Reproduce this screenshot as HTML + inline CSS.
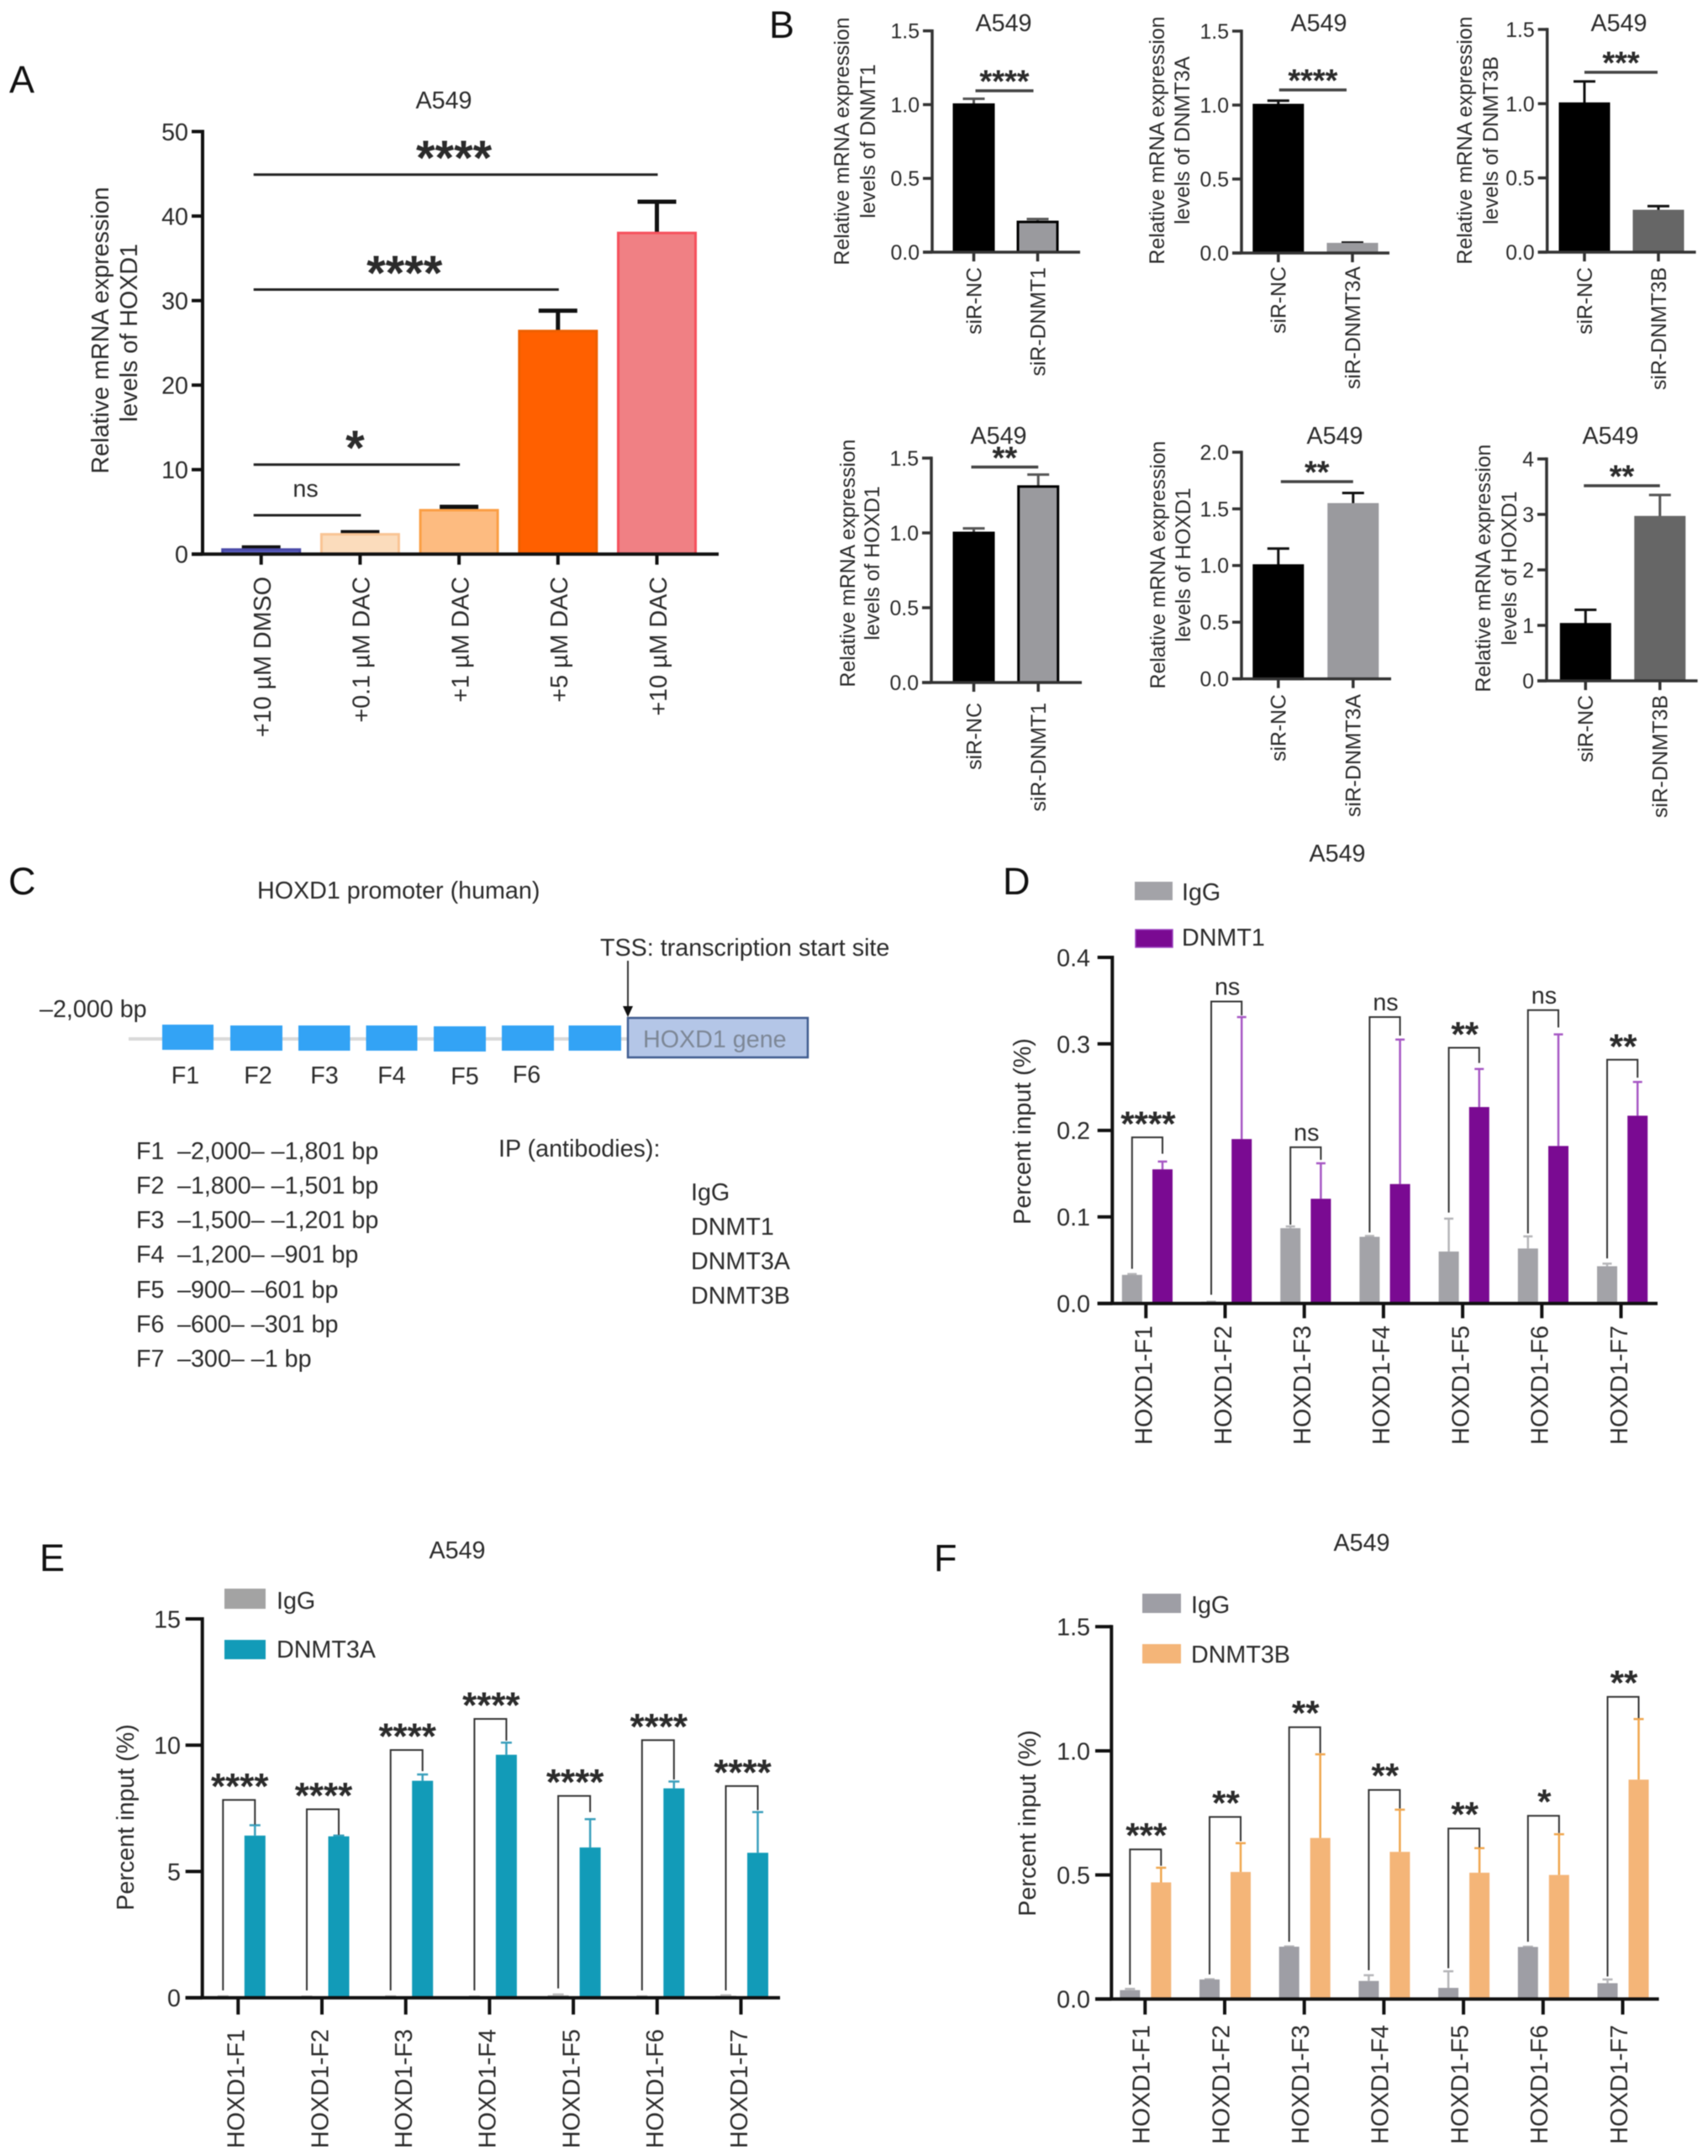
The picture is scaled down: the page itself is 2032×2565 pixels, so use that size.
<!DOCTYPE html>
<html lang="en">
<head>
<meta charset="utf-8">
<title>A549 HOXD1 methylation figure</title>
<style>
html,body{margin:0;padding:0;background:#fff;}
body{width:2032px;height:2565px;overflow:hidden;}
#figure{display:block;filter:blur(0.6px);}
text{font-family:"Liberation Sans",Arial,sans-serif;fill:#2b2b2b;}
.letter{font-size:45px;fill:#111;}
.t{font-size:28.7px;}
.s{font-size:24.8px;}
.m{text-anchor:middle;}
</style>
</head>
<body>
<svg id="figure" xmlns="http://www.w3.org/2000/svg" width="2032" height="2565" viewBox="0 0 2032 2565">
  <rect x="0" y="0" width="2032" height="2565" fill="#fff"/>

  <text class="letter" x="11" y="110">A</text>
  <text class="letter" x="915" y="45">B</text>
  <text class="letter" x="10" y="1064">C</text>
  <text class="letter" x="1193" y="1064">D</text>
  <text class="letter" x="47" y="1869">E</text>
  <text class="letter" x="1111" y="1869">F</text>

  <g id="panel-a">
    <text class="t m" x="528" y="129">A549</text>
    <text class="t m" transform="translate(129 393) rotate(-90)">Relative mRNA expression</text>
    <text class="t m" transform="translate(163 396) rotate(-90)">levels of HOXD1</text>
  </g>

  <g id="panel-b1">
    <text class="t m" x="1194" y="37">A549</text>
    <text class="s m" transform="translate(1010 168) rotate(-90)">Relative mRNA expression</text>
    <text class="s m" transform="translate(1041 168) rotate(-90)">levels of DNMT1</text>
  </g>
  <g id="panel-b2">
    <text class="t m" x="1569" y="37">A549</text>
    <text class="s m" transform="translate(1385 167) rotate(-90)">Relative mRNA expression</text>
    <text class="s m" transform="translate(1415 167) rotate(-90)">levels of DNMT3A</text>
  </g>
  <g id="panel-b3">
    <text class="t m" x="1926" y="37">A549</text>
    <text class="s m" transform="translate(1751 167) rotate(-90)">Relative mRNA expression</text>
    <text class="s m" transform="translate(1782 167) rotate(-90)">levels of DNMT3B</text>
  </g>
  <g id="panel-b4">
    <text class="t m" x="1188" y="528">A549</text>
    <text class="s m" transform="translate(1017 670) rotate(-90)">Relative mRNA expression</text>
    <text class="s m" transform="translate(1046 670) rotate(-90)">levels of HOXD1</text>
  </g>
  <g id="panel-b5">
    <text class="t m" x="1588" y="528">A549</text>
    <text class="s m" transform="translate(1386 672) rotate(-90)">Relative mRNA expression</text>
    <text class="s m" transform="translate(1416 672) rotate(-90)">levels of HOXD1</text>
  </g>
  <g id="panel-b6">
    <text class="t m" x="1916" y="528">A549</text>
    <text class="s m" transform="translate(1773 676) rotate(-90)">Relative mRNA expression</text>
    <text class="s m" transform="translate(1804 676) rotate(-90)">levels of HOXD1</text>
  </g>

  <g id="panel-c">
    <text class="t" x="306" y="1069">HOXD1 promoter (human)</text>
    <text class="t" x="714" y="1137">TSS: transcription start site</text>
    <line x1="747" y1="1143" x2="747" y2="1198" stroke="#333" stroke-width="2"/>
    <polygon points="741,1197 753,1197 747,1210" fill="#111"/>
    <text class="t" x="47" y="1210">–2,000 bp</text>
    <line x1="153" y1="1236" x2="747" y2="1236" stroke="#d9d9d9" stroke-width="4"/>
    <rect x="193" y="1219" width="61" height="30" fill="#33a3f5"/>
    <rect x="274" y="1220" width="62" height="30" fill="#33a3f5"/>
    <rect x="355" y="1220" width="61.5" height="30" fill="#33a3f5"/>
    <rect x="435.5" y="1220" width="61" height="30" fill="#33a3f5"/>
    <rect x="516" y="1221" width="62" height="30" fill="#33a3f5"/>
    <rect x="597" y="1220" width="62" height="30" fill="#33a3f5"/>
    <rect x="676.5" y="1220" width="62.5" height="30" fill="#33a3f5"/>
    <rect x="747" y="1211" width="214" height="47" fill="#b4c6e7" stroke="#3f5c8f" stroke-width="2.5"/>
    <text class="t" x="765" y="1246" style="fill:#7d8796">HOXD1 gene</text>
    <text class="t m" x="220.5" y="1289">F1</text>
    <text class="t m" x="307" y="1289">F2</text>
    <text class="t m" x="386" y="1289">F3</text>
    <text class="t m" x="466" y="1289">F4</text>
    <text class="t m" x="553" y="1290">F5</text>
    <text class="t m" x="626.5" y="1288">F6</text>

    <text class="t" y="1379"><tspan x="162">F1</tspan><tspan x="211">–2,000– –1,801 bp</tspan></text>
    <text class="t" y="1420"><tspan x="162">F2</tspan><tspan x="211">–1,800– –1,501 bp</tspan></text>
    <text class="t" y="1461"><tspan x="162">F3</tspan><tspan x="211">–1,500– –1,201 bp</tspan></text>
    <text class="t" y="1502"><tspan x="162">F4</tspan><tspan x="211">–1,200– –901 bp</tspan></text>
    <text class="t" y="1544"><tspan x="162">F5</tspan><tspan x="211">–900– –601 bp</tspan></text>
    <text class="t" y="1585"><tspan x="162">F6</tspan><tspan x="211">–600– –301 bp</tspan></text>
    <text class="t" y="1626"><tspan x="162">F7</tspan><tspan x="211">–300– –1 bp</tspan></text>

    <text class="t" x="593" y="1376">IP (antibodies):</text>
    <text class="t" x="822" y="1428">IgG</text>
    <text class="t" x="822" y="1469">DNMT1</text>
    <text class="t" x="822" y="1510">DNMT3A</text>
    <text class="t" x="822" y="1551">DNMT3B</text>
  </g>

  <g id="panel-d">
    <text class="t m" x="1591" y="1025">A549</text>
    <rect x="1350" y="1049" width="45" height="22" fill="#a3a3a8"/>
    <text class="t" x="1406" y="1071">IgG</text>
    <rect x="1351" y="1106" width="44" height="21" fill="#7a0a92" stroke="#9c42c0" stroke-width="1.5"/>
    <text class="t" x="1406" y="1125">DNMT1</text>
    <text class="t m" transform="translate(1226 1346) rotate(-90)">Percent input (%)</text>
  </g>
  <g id="panel-e">
    <text class="t m" x="544" y="1854">A549</text>
    <rect x="267" y="1890" width="49" height="24" fill="#a3a3a3"/>
    <text class="t" x="329" y="1914">IgG</text>
    <rect x="267" y="1951" width="49" height="23" fill="#129bb8"/>
    <text class="t" x="329" y="1972">DNMT3A</text>
    <text class="t m" transform="translate(159 2162) rotate(-90)">Percent input (%)</text>
  </g>
  <g id="panel-f">
    <text class="t m" x="1620" y="1845">A549</text>
    <rect x="1359" y="1896" width="46" height="23" fill="#9e9ea5"/>
    <text class="t" x="1417" y="1919">IgG</text>
    <rect x="1359" y="1956" width="46" height="23" fill="#f4b578"/>
    <text class="t" x="1417" y="1978">DNMT3B</text>
    <text class="t m" transform="translate(1232 2169) rotate(-90)">Percent input (%)</text>
  </g>
</svg>

<script>
/* ---------- Panel A data ---------- */
const aCategories = ['+10 µM DMSO', '+0.1 µM DAC', '+1 µM DAC', '+5 µM DAC', '+10 µM DAC'];
const aValues = [0.55, 2.35, 5.2, 26.4, 38.0];
const aErrorTops = [0.8, 2.6, 5.6, 28.8, 41.7];
const aTicks = [0, 10, 20, 30, 40, 50];
const aTickLabels = ['0', '10', '20', '30', '40', '50'];
const aSigFrom = [0, 0, 0, 0];
const aSigTo = [1, 2, 3, 4];
const aSigLevels = [4.6, 10.6, 31.3, 44.9];
const aSigLabels = ['ns', '*', '****', '****'];

/* ---------- Panel B data ---------- */
const bCategories1 = ['siR-NC', 'siR-DNMT1'];
const bCategories2 = ['siR-NC', 'siR-DNMT3A'];
const bCategories3 = ['siR-NC', 'siR-DNMT3B'];
const b1Values = [1.0, 0.205];
const b1ErrorTops = [1.04, 0.224];
const b1Ticks = [0, 0.5, 1.0, 1.5];
const b1TickLabels = ['0.0', '0.5', '1.0', '1.5'];
const b1SigLevel = [1.094];
const b1SigLabel = ['****'];
const b2Values = [1.0, 0.06];
const b2ErrorTops = [1.03, 0.07];
const b2Ticks = [0, 0.5, 1.0, 1.5];
const b2TickLabels = ['0.0', '0.5', '1.0', '1.5'];
const b2SigLevel = [1.102];
const b2SigLabel = ['****'];
const b3Values = [1.0, 0.277];
const b3ErrorTops = [1.15, 0.31];
const b3Ticks = [0, 0.5, 1.0, 1.5];
const b3TickLabels = ['0.0', '0.5', '1.0', '1.5'];
const b3SigLevel = [1.211];
const b3SigLabel = ['***'];
const b4Values = [1.0, 1.31];
const b4ErrorTops = [1.03, 1.39];
const b4Ticks = [0, 0.5, 1.0, 1.5];
const b4TickLabels = ['0.0', '0.5', '1.0', '1.5'];
const b4SigLevel = [1.44];
const b4SigLabel = ['**'];
const b5Values = [1.0, 1.54];
const b5ErrorTops = [1.15, 1.64];
const b5Ticks = [0, 0.5, 1.0, 1.5, 2.0];
const b5TickLabels = ['0.0', '0.5', '1.0', '1.5', '2.0'];
const b5SigLevel = [1.74];
const b5SigLabel = ['**'];
const b6Values = [1.02, 2.95];
const b6ErrorTops = [1.28, 3.35];
const b6Ticks = [0, 1, 2, 3, 4];
const b6TickLabels = ['0', '1', '2', '3', '4'];
const b6SigLevel = [3.517];
const b6SigLabel = ['**'];

/* ---------- Panels D, E, F data ---------- */
const fragmentCategories = ['HOXD1-F1', 'HOXD1-F2', 'HOXD1-F3', 'HOXD1-F4', 'HOXD1-F5', 'HOXD1-F6', 'HOXD1-F7'];

const dTicks = [0, 0.1, 0.2, 0.3, 0.4];
const dTickLabels = ['0.0', '0.1', '0.2', '0.3', '0.4'];
const dIgg = [0.033, 0.002, 0.087, 0.077, 0.06, 0.0635, 0.043];
const dIggErrorTops = [0.034, 0.002, 0.089, 0.078, 0.098, 0.0775, 0.046];
const dAntibody = [0.155, 0.19, 0.121, 0.138, 0.227, 0.182, 0.217];
const dAntibodyErrorTops = [0.164, 0.331, 0.162, 0.305, 0.271, 0.311, 0.256];
const dBracketTop = [0.192, 0.349, 0.1805, 0.331, 0.2956, 0.339, 0.2817];
const dBracketLeft = [0.04, 0.01, 0.091, 0.082, 0.105, 0.081, 0.052];
const dBracketRight = [0.173, 0.333, 0.166, 0.3095, 0.278, 0.319, 0.261];
const dSigLabels = ['****', 'ns', 'ns', 'ns', '**', 'ns', '**'];

const eTicks = [0, 5, 10, 15];
const eTickLabels = ['0', '5', '10', '15'];
const eIgg = [0.05, 0.04, 0.05, 0.04, 0.1, 0.05, 0.08];
const eIggErrorTops = [0.06, 0.05, 0.06, 0.05, 0.13, 0.06, 0.1];
const eAntibody = [6.42, 6.39, 8.59, 9.62, 5.95, 8.29, 5.74];
const eAntibodyErrorTops = [6.83, 6.42, 8.84, 10.1, 7.07, 8.56, 7.35];
const eBracketTop = [7.83, 7.46, 9.81, 11.04, 7.99, 10.2, 8.38];
const eBracketLeft = [0.29, 0.29, 0.29, 0.29, 0.37, 0.29, 0.29];
const eBracketRight = [6.86, 6.45, 8.97, 10.18, 7.35, 8.64, 7.43];
const eSigLabels = ['****', '****', '****', '****', '****', '****', '****'];

const fTicks = [0, 0.5, 1.0, 1.5];
const fTickLabels = ['0.0', '0.5', '1.0', '1.5'];
const fIgg = [0.036, 0.079, 0.211, 0.073, 0.045, 0.21, 0.064];
const fIggErrorTops = [0.041, 0.08, 0.212, 0.096, 0.112, 0.211, 0.079];
const fAntibody = [0.47, 0.512, 0.649, 0.593, 0.509, 0.5, 0.884];
const fAntibodyErrorTops = [0.529, 0.628, 0.986, 0.763, 0.608, 0.664, 1.128];
const fBracketTop = [0.603, 0.7335, 1.095, 0.8425, 0.687, 0.7385, 1.2176];
const fBracketLeft = [0.058, 0.099, 0.231, 0.116, 0.124, 0.231, 0.091];
const fBracketRight = [0.537, 0.636, 0.991, 0.768, 0.611, 0.669, 1.132];
const fSigLabels = ['***', '**', '**', '**', '**', '*', '**'];

/* ---------- Drawing helpers ---------- */
const SVG_NS = 'http://www.w3.org/2000/svg';

function addRect(parent, name, x, y, w, h, fill, stroke, strokeWidth) {
  const el = document.createElementNS(SVG_NS, 'rect');
  
  
  el.setAttribute('x', x);
  el.setAttribute('y', y);
  el.setAttribute('width', w);
  el.setAttribute('height', Math.max(h, 0));
  el.setAttribute('fill', fill);
  if (stroke) {
    el.setAttribute('stroke', stroke);
    el.setAttribute('stroke-width', strokeWidth);
  }
  parent.appendChild(el);
  return el;
}

function addLine(parent, name, x1, y1, x2, y2, stroke, width) {
  const el = document.createElementNS(SVG_NS, 'line');
  
  
  el.setAttribute('x1', x1);
  el.setAttribute('y1', y1);
  el.setAttribute('x2', x2);
  el.setAttribute('y2', y2);
  el.setAttribute('stroke', stroke);
  el.setAttribute('stroke-width', width);
  parent.appendChild(el);
  return el;
}

function addPath(parent, name, d, stroke, width) {
  const el = document.createElementNS(SVG_NS, 'path');
  
  
  el.setAttribute('d', d);
  el.setAttribute('fill', 'none');
  el.setAttribute('stroke', stroke);
  el.setAttribute('stroke-width', width);
  parent.appendChild(el);
  return el;
}

function addText(parent, name, str, x, y, size, anchor, weight, rotate) {
  const el = document.createElementNS(SVG_NS, 'text');
  
  
  el.setAttribute('x', x);
  el.setAttribute('y', y);
  el.setAttribute('font-size', size);
  el.setAttribute('text-anchor', anchor);
  if (weight) el.setAttribute('font-weight', weight);
  if (rotate) el.setAttribute('transform', 'rotate(-90 ' + x + ' ' + y + ')');
  el.textContent = str;
  parent.appendChild(el);
  return el;
}

function addSigLabel(parent, label, cx, lineY, layout) {
  if (label === 'ns') {
    addText(parent, 'significance-ns', label, cx, lineY - layout.nsGap, layout.fs, 'middle');
  } else {
    const size = layout.starFs;
    addText(parent, 'significance-stars', label, cx, lineY - layout.starGap + 0.49 * size, size, 'middle', 'bold');
  }
}

function yScale(layout) {
  return function (v) {
    return layout.base - (v / layout.vMax) * (layout.base - layout.top);
  };
}

function xScale(layout) {
  return function (i) {
    return layout.c0 + i * layout.step;
  };
}

function drawAxes(g, layout, ticks, tickLabels, categories) {
  const y = yScale(layout);
  const x = xScale(layout);
  const w = layout.axisW;
  const color = layout.axisColor;
  addLine(g, 'y-axis', layout.axisX, y(layout.vMax) - w / 2, layout.axisX, layout.base, color, w);
  addLine(g, 'x-axis', layout.yTickLeft, layout.base, layout.xMax, layout.base, color, w);
  ticks.forEach(function (t, i) {
    addLine(g, 'y-tick', layout.yTickLeft, y(t), layout.axisX, y(t), color, w);
    addText(g, 'y-tick-label', tickLabels[i], layout.labelRight, y(t) + 0.36 * layout.fs, layout.fs, 'end');
  });
  categories.forEach(function (c, i) {
    addLine(g, 'x-tick', x(i), layout.base, x(i), layout.base + layout.tickLen, color, w);
    const lx = x(i) + layout.labelDx + 0.36 * layout.fs;
    addText(g, 'x-tick-label', c, lx, layout.labelTop, layout.fs, 'end', null, true);
  });
}

/* ---------- Simple bar charts (A, B) ---------- */
function drawBars(g, layout, categories, values, errorTops, ticks, tickLabels) {
  const y = yScale(layout);
  const x = xScale(layout);
  values.forEach(function (v, i) {
    const bw = layout.barW;
    addLine(g, 'error-bar', x(i), y(errorTops[i]), x(i), y(v), layout.errColors[i], layout.errW);
    addLine(g, 'error-cap', x(i) - layout.capW / 2, y(errorTops[i]), x(i) + layout.capW / 2, y(errorTops[i]), layout.errColors[i], layout.errW);
    addRect(g, 'bar-' + categories[i].replace(/[^A-Za-z0-9]+/g, '-').toLowerCase(), x(i) - bw / 2, y(v), bw, layout.base - y(v), layout.fills[i], layout.strokes[i], layout.strokeW);
  });
  drawAxes(g, layout, ticks, tickLabels, categories);
}

const aLayout = {
  axisX: 241, yTickLeft: 228, xMax: 855, top: 156.5, base: 659.3, vMax: 50,
  c0: 310.7, step: 117.7, barW: 92, capW: 46, tickLen: 12.5, labelRight: 224, labelTop: 686, labelDx: 1,
  fs: 28.7, axisW: 4, axisColor: '#111', errW: 5, strokeW: 3, nsGap: 22, starGap: 28, starFs: 58,
  errColors: ['#111', '#111', '#111', '#111', '#111'],
  fills: ['#5b5fc0', '#fbdcbc', '#fdbb80', '#ff6000', '#f08084'],
  strokes: ['#4a4aa8', '#f9c494', '#fb9f45', '#ee6000', '#f6505c']
};
const gA = document.getElementById('panel-a');
drawBars(gA, aLayout, aCategories, aValues, aErrorTops, aTicks, aTickLabels);
(function () {
  const y = yScale(aLayout);
  const x = xScale(aLayout);
  aSigLevels.forEach(function (level, i) {
    const x1 = x(aSigFrom[i]) - 9;
    const x2 = x(aSigTo[i]) + 1;
    addLine(gA, 'significance-line', x1, y(level), x2, y(level), '#222', 3);
    addSigLabel(gA, aSigLabels[i], (x1 + x2) / 2 - 2, y(level), aLayout);
  });
})();

function panelBLayout(axisX, xMax, top, base, vMax, c0, step, barW, labelTop, fills, strokes, errColors) {
  return {
    axisX: axisX, yTickLeft: axisX - 11, xMax: xMax, top: top, base: base, vMax: vMax,
    c0: c0, step: step, barW: barW, capW: 26, tickLen: 11, labelRight: axisX - 15, labelTop: labelTop, labelDx: 0,
    fs: 24.8, axisW: 3.5, axisColor: '#333', errW: 3, strokeW: 3, nsGap: 14, starGap: 17, starFs: 38,
    errColors: errColors, fills: fills, strokes: strokes
  };
}

function drawPanelB(id, layout, categories, values, errorTops, ticks, tickLabels, sigLevel, sigLabel, sigDxL, sigDxR) {
  const g = document.getElementById(id);
  drawBars(g, layout, categories, values, errorTops, ticks, tickLabels);
  const y = yScale(layout);
  const x = xScale(layout);
  const x1 = x(0) + sigDxL;
  const x2 = x(1) + sigDxR;
  addLine(g, 'significance-line', x1, y(sigLevel[0]), x2, y(sigLevel[0]), '#444', 3.5);
  addSigLabel(g, sigLabel[0], (x1 + x2) / 2, y(sigLevel[0]), layout);
}

drawPanelB('panel-b1', panelBLayout(1109, 1285, 36.7, 300, 1.5, 1158.5, 76, 47, 318, ['#000', '#9a9a9e'], ['#000', '#000'], ['#555', '#555']),
  bCategories1, b1Values, b1ErrorTops, b1Ticks, b1TickLabels, b1SigLevel, b1SigLabel, 2, -5);
drawPanelB('panel-b2', panelBLayout(1477, 1653, 37, 301, 1.5, 1520.8, 88.2, 58, 317, ['#000', '#9a9a9e'], ['#000', '#9a9a9e'], ['#111', '#111']),
  bCategories2, b2Values, b2ErrorTops, b2Ticks, b2TickLabels, b2SigLevel, b2SigLabel, 1, -7);
drawPanelB('panel-b3', panelBLayout(1840.7, 2017.6, 35, 300, 1.5, 1885, 88, 58, 318, ['#000', '#666'], ['#000', '#666'], ['#111', '#111']),
  bCategories3, b3Values, b3ErrorTops, b3Ticks, b3TickLabels, b3SigLevel, b3SigLabel, 0, -1);
drawPanelB('panel-b4', panelBLayout(1108, 1287, 545, 812, 1.5, 1158.5, 76.7, 47, 836, ['#000', '#9a9a9e'], ['#000', '#000'], ['#555', '#555']),
  bCategories1, b4Values, b4ErrorTops, b4Ticks, b4TickLabels, b4SigLevel, b4SigLabel, -3, 0);
drawPanelB('panel-b5', panelBLayout(1477, 1655, 538, 807.6, 2.0, 1520.8, 89, 58, 826, ['#000', '#9a9a9e'], ['#000', '#9a9a9e'], ['#111', '#111']),
  bCategories2, b5Values, b5ErrorTops, b5Ticks, b5TickLabels, b5SigLevel, b5SigLabel, 3, 0);
drawPanelB('panel-b6', panelBLayout(1840, 2019.6, 546, 810, 4, 1886.3, 88.5, 58, 827, ['#000', '#666'], ['#000', '#666'], ['#111', '#555']),
  bCategories3, b6Values, b6ErrorTops, b6Ticks, b6TickLabels, b6SigLevel, b6SigLabel, -2, 0);

/* ---------- Grouped charts (D, E, F) ---------- */
function drawGrouped(id, layout, categories, ticks, tickLabels, igg, iggErr, ab, abErr, brTop, brLeft, brRight, sigLabels) {
  const g = document.getElementById(id);
  const y = yScale(layout);
  const x = xScale(layout);
  categories.forEach(function (c, i) {
    const xa = x(i) + layout.iggDx;
    const xb = x(i) + layout.abDx;
    addLine(g, 'error-bar-igg', xa, y(iggErr[i]), xa, y(igg[i]), layout.iggErrColor, layout.errW);
    addLine(g, 'error-cap-igg', xa - layout.capW / 2, y(iggErr[i]), xa + layout.capW / 2, y(iggErr[i]), layout.iggErrColor, layout.errW);
    addRect(g, 'bar-igg-f' + (i + 1), xa - layout.barW / 2, y(igg[i]), layout.barW, layout.base - y(igg[i]), layout.iggFill);
    addLine(g, 'error-bar-antibody', xb, y(abErr[i]), xb, y(ab[i]), layout.abErrColor, layout.errW);
    addLine(g, 'error-cap-antibody', xb - layout.capW / 2, y(abErr[i]), xb + layout.capW / 2, y(abErr[i]), layout.abErrColor, layout.errW);
    addRect(g, 'bar-antibody-f' + (i + 1), xb - layout.barW / 2, y(ab[i]), layout.barW, layout.base - y(ab[i]), layout.abFill);
    const d = 'M' + xa + ' ' + y(brLeft[i]) + ' V' + y(brTop[i]) + ' H' + xb + ' V' + y(brRight[i]);
    addPath(g, 'significance-bracket-f' + (i + 1), d, '#333', 2);
    addSigLabel(g, sigLabels[i], (xa + xb) / 2 + 1, y(brTop[i]), layout);
  });
  drawAxes(g, layout, ticks, tickLabels, categories);
}

const dLayout = {
  axisX: 1323.3, yTickLeft: 1305.7, xMax: 1972, top: 1139, base: 1550.7, vMax: 0.4,
  c0: 1363.3, step: 94.2, barW: 24, capW: 11, iggDx: -16.5, abDx: 19.7, tickLen: 17.6,
  labelRight: 1297, labelTop: 1577, labelDx: -3, fs: 28.7, axisW: 4, axisColor: '#111', errW: 2.5,
  nsGap: 8, starGap: 22, starFs: 42,
  iggFill: '#a3a3a8', iggErrColor: '#b5b5b8', abFill: '#7a0a92', abErrColor: '#a657c4'
};
drawGrouped('panel-d', dLayout, fragmentCategories, dTicks, dTickLabels, dIgg, dIggErrorTops, dAntibody, dAntibodyErrorTops, dBracketTop, dBracketLeft, dBracketRight, dSigLabels);

const eLayout = {
  axisX: 240.7, yTickLeft: 220.7, xMax: 928, top: 1926, base: 2376.7, vMax: 15,
  c0: 283.3, step: 99.7, barW: 25, capW: 13, iggDx: -18, abDx: 20, tickLen: 20,
  labelRight: 215, labelTop: 2414, labelDx: -3, fs: 28.7, axisW: 4, axisColor: '#111', errW: 2.5,
  nsGap: 8, starGap: 23, starFs: 44,
  iggFill: '#b0b0b0', iggErrColor: '#c0c0c0', abFill: '#129bb8', abErrColor: '#3a9fbc'
};
drawGrouped('panel-e', eLayout, fragmentCategories, eTicks, eTickLabels, eIgg, eIggErrorTops, eAntibody, eAntibodyErrorTops, eBracketTop, eBracketLeft, eBracketRight, eSigLabels);

const fLayout = {
  axisX: 1322.3, yTickLeft: 1303, xMax: 1973.6, top: 1935.3, base: 2378.3, vMax: 1.5,
  c0: 1362.3, step: 94.7, barW: 24, capW: 12, iggDx: -18, abDx: 19, tickLen: 18.4,
  labelRight: 1297, labelTop: 2409, labelDx: -5, fs: 28.7, axisW: 4, axisColor: '#111', errW: 2.5,
  nsGap: 8, starGap: 23, starFs: 42,
  iggFill: '#9e9ea5', iggErrColor: '#b5b5b8', abFill: '#f4b578', abErrColor: '#f0a64e'
};
drawGrouped('panel-f', fLayout, fragmentCategories, fTicks, fTickLabels, fIgg, fIggErrorTops, fAntibody, fAntibodyErrorTops, fBracketTop, fBracketLeft, fBracketRight, fSigLabels);
</script>
</body>
</html>
